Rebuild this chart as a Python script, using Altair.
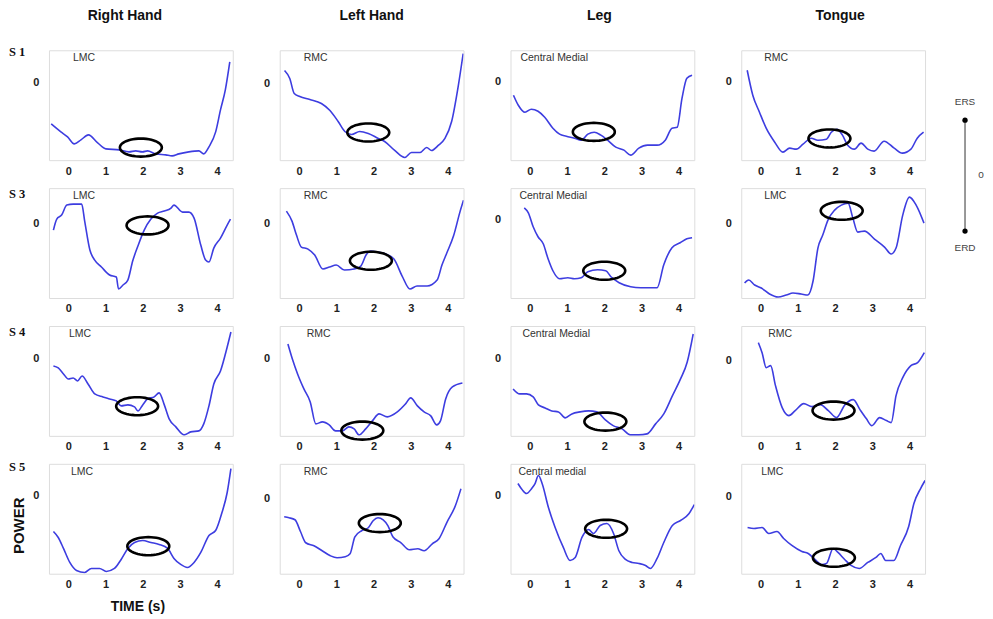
import altair as alt
import pandas as pd
import numpy as np

COLUMNS = ["Right Hand", "Left Hand", "Leg", "Tongue"]
SUBJECTS = ["S 1", "S 3", "S 4", "S 5"]
REGIONS = [
    ["LMC", "RMC", "Central Medial", "RMC"],
    ["LMC", "RMC", "Central Medial", "LMC"],
    ["LMC", "RMC", "Central Medial", "RMC"],
    ["LMC", "RMC", "Central medial", "LMC"],
]
X_TICKS = [0, 1, 2, 3, 4]

# ---- S1 ----
t_s1_rh = [-0.46, -0.20, -0.02, 0.16, 0.34, 0.54, 0.79, 1.01, 1.37, 1.63, 1.81, 1.99, 2.13, 2.35, 2.62, 2.79, 2.97, 3.24, 3.51, 3.64, 3.78, 3.96, 4.09, 4.22, 4.34]
p_s1_rh = [-4.1, -4.9, -5.4, -6.1, -5.7, -5.2, -6.0, -6.6, -6.7, -6.9, -6.8, -6.9, -6.8, -7.1, -7.2, -7.3, -7.1, -6.9, -6.8, -7.1, -6.4, -4.9, -2.7, -0.7, 2.1]
t_s1_lh = [-0.39, -0.25, -0.13, 0.02, 0.29, 0.6, 0.83, 1.05, 1.23, 1.41, 1.63, 1.86, 2.13, 2.3, 2.57, 2.84, 3.02, 3.25, 3.43, 3.56, 3.74, 3.92, 4.1, 4.28, 4.41]
p_s1_lh = [1.3, 0.5, -1.0, -1.3, -1.6, -2.0, -2.7, -3.8, -4.8, -5.1, -4.8, -5.0, -5.5, -5.8, -6.7, -7.4, -6.9, -6.9, -6.4, -6.7, -6.2, -5.5, -3.8, -0.2, 3.0]
t_s1_leg = [-0.44, -0.31, -0.13, 0.04, 0.22, 0.4, 0.62, 0.8, 0.98, 1.2, 1.38, 1.56, 1.73, 1.91, 2.09, 2.31, 2.53, 2.71, 2.93, 3.16, 3.42, 3.64, 3.82, 3.96, 4.09, 4.22, 4.36]
p_s1_leg = [-1.4, -2.4, -3.1, -2.8, -3.0, -3.6, -4.7, -5.3, -5.5, -5.7, -5.9, -5.3, -5.1, -5.4, -5.9, -6.6, -6.9, -7.4, -6.7, -6.4, -6.4, -5.9, -4.7, -4.6, -1.7, 0.3, 0.6]
t_s1_tg = [-0.36, -0.21, -0.03, 0.15, 0.38, 0.6, 0.78, 0.96, 1.14, 1.36, 1.54, 1.77, 1.9, 2.05, 2.2, 2.34, 2.52, 2.7, 2.88, 3.05, 3.32, 3.59, 3.81, 4.04, 4.21, 4.38]
p_s1_tg = [1.1, -1.4, -3.1, -4.7, -6.1, -7.1, -6.7, -6.8, -6.3, -5.7, -5.9, -5.8, -5.1, -4.8, -5.4, -6.4, -6.8, -6.2, -6.8, -7.0, -6.0, -6.7, -7.2, -6.8, -5.7, -5.1]

# ---- S3 ----
t_s3_rh = [-0.4, -0.31, -0.18, -0.04, 0.13, 0.36, 0.44, 0.58, 0.71, 0.89, 1.11, 1.29, 1.35, 1.47, 1.6, 1.73, 1.87, 2.04, 2.22, 2.4, 2.58, 2.76, 2.84, 3.07, 3.24, 3.38, 3.56, 3.69, 3.78, 3.91, 4.09, 4.27, 4.36]
p_s3_rh = [-0.7, 0.4, 0.8, 1.8, 1.9, 1.9, 0.2, -2.7, -3.7, -4.4, -5.2, -5.4, -6.6, -6.2, -5.7, -3.8, -2.3, -0.7, 0.4, 1.0, 1.2, 1.5, 1.8, 1.1, 1.1, 0.5, -2.2, -3.7, -3.9, -2.5, -1.5, -0.2, 0.4]
t_s3_lh = [-0.34, -0.19, -0.07, 0.06, 0.24, 0.42, 0.64, 0.82, 1.0, 1.22, 1.48, 1.66, 1.8, 1.93, 2.11, 2.33, 2.55, 2.77, 2.98, 3.17, 3.44, 3.71, 3.84, 3.97, 4.15, 4.33, 4.42]
p_s3_lh = [1.2, 0.2, -1.2, -2.4, -2.6, -3.2, -4.6, -4.4, -4.2, -4.7, -4.6, -4.3, -3.2, -2.8, -2.9, -3.1, -3.6, -5.3, -6.6, -6.3, -6.3, -5.7, -4.2, -3.0, -1.3, 1.2, 2.3]
t_s3_leg = [-0.15, -0.04, 0.09, 0.22, 0.36, 0.49, 0.62, 0.8, 1.02, 1.2, 1.38, 1.56, 1.82, 2.04, 2.18, 2.4, 2.71, 2.98, 3.24, 3.42, 3.6, 3.82, 4.04, 4.22, 4.36]
p_s3_leg = [1.2, 0.7, -0.7, -1.7, -2.4, -3.9, -5.1, -5.9, -5.8, -5.9, -5.8, -5.2, -5.0, -5.1, -5.7, -6.3, -6.7, -6.8, -6.8, -6.8, -4.5, -2.8, -2.3, -1.9, -1.8]
t_s3_tg = [-0.43, -0.32, -0.16, 0.02, 0.24, 0.47, 0.69, 0.87, 1.09, 1.27, 1.41, 1.54, 1.67, 1.81, 1.99, 2.17, 2.35, 2.48, 2.61, 2.79, 3.06, 3.33, 3.51, 3.64, 3.82, 4.0, 4.18, 4.39]
p_s3_tg = [-6.0, -5.7, -6.2, -6.5, -7.1, -7.4, -7.2, -7.0, -7.1, -7.2, -5.8, -2.5, -1.2, 0.3, 1.3, 1.8, 2.0, 0.5, -0.9, -0.8, -1.6, -2.4, -3.1, -2.5, 0.8, 2.6, 1.8, 0.0]

# ---- S4 ----
t_s4_rh = [-0.4, -0.27, -0.13, 0.0, 0.13, 0.25, 0.37, 0.53, 0.71, 0.93, 1.11, 1.29, 1.42, 1.6, 1.78, 1.87, 2.0, 2.13, 2.31, 2.44, 2.58, 2.71, 2.89, 3.11, 3.29, 3.51, 3.64, 3.78, 3.91, 4.09, 4.27, 4.37]
p_s4_rh = [-0.7, -0.9, -1.5, -2.0, -1.9, -2.2, -1.7, -2.5, -3.5, -3.8, -4.0, -4.2, -4.7, -4.6, -4.8, -5.2, -4.6, -4.0, -3.8, -3.4, -4.6, -6.0, -6.8, -7.6, -7.3, -7.2, -6.5, -4.7, -2.5, -1.2, 1.2, 2.7]
t_s4_lh = [-0.3, -0.18, -0.04, 0.13, 0.3, 0.45, 0.63, 0.81, 0.98, 1.16, 1.34, 1.48, 1.61, 1.79, 1.97, 2.15, 2.37, 2.64, 2.86, 3.0, 3.18, 3.36, 3.54, 3.7, 3.8, 3.94, 4.12, 4.39]
p_s4_lh = [1.5, 0.0, -1.5, -3.0, -4.3, -6.5, -6.3, -6.6, -7.2, -7.2, -6.8, -7.0, -7.6, -7.0, -6.2, -5.5, -5.8, -5.3, -4.5, -3.9, -4.7, -5.3, -5.7, -6.6, -6.2, -4.0, -2.8, -2.4]
t_s4_leg = [-0.45, -0.27, -0.09, 0.09, 0.23, 0.41, 0.59, 0.77, 0.95, 1.13, 1.35, 1.58, 1.8, 2.03, 2.25, 2.48, 2.7, 2.93, 3.15, 3.38, 3.6, 3.83, 4.05, 4.23, 4.39]
p_s4_leg = [-3.0, -3.5, -3.5, -3.8, -4.6, -4.9, -5.2, -5.3, -5.9, -5.5, -5.3, -5.2, -5.3, -6.1, -6.7, -7.0, -7.6, -7.6, -7.5, -6.5, -5.5, -3.7, -2.0, -0.3, 2.5]
t_s4_tg = [-0.06, 0.04, 0.15, 0.27, 0.4, 0.58, 0.76, 0.93, 1.16, 1.38, 1.6, 1.82, 2.04, 2.27, 2.49, 2.67, 2.84, 2.99, 3.2, 3.38, 3.51, 3.64, 3.82, 4.04, 4.22, 4.4]
p_s4_tg = [1.8, 0.8, -0.7, -0.5, -2.5, -4.7, -5.5, -5.0, -4.3, -4.6, -4.4, -5.0, -5.7, -4.4, -3.9, -4.9, -5.8, -6.5, -5.7, -6.0, -6.2, -3.5, -1.7, -0.5, -0.2, 0.8]

# ---- S5 ----
t_s5_rh = [-0.4, -0.27, -0.13, 0.04, 0.22, 0.44, 0.62, 0.84, 1.02, 1.24, 1.42, 1.6, 1.78, 2.0, 2.22, 2.44, 2.67, 2.84, 3.02, 3.2, 3.38, 3.56, 3.78, 3.96, 4.13, 4.27, 4.37]
p_s5_rh = [-3.6, -4.2, -5.3, -6.7, -7.5, -7.7, -7.3, -7.3, -7.6, -7.3, -6.4, -5.3, -4.7, -4.5, -4.7, -4.9, -5.3, -6.3, -6.9, -7.2, -6.7, -5.7, -4.0, -3.5, -1.7, 0.3, 2.7]
t_s5_lh = [-0.4, -0.27, -0.11, 0.04, 0.18, 0.4, 0.62, 0.84, 1.02, 1.24, 1.37, 1.5, 1.68, 1.86, 1.99, 2.12, 2.26, 2.39, 2.52, 2.74, 2.96, 3.19, 3.36, 3.58, 3.76, 3.98, 4.2, 4.35]
p_s5_lh = [-1.8, -1.9, -2.1, -3.3, -4.4, -4.7, -5.2, -5.7, -5.9, -5.8, -5.5, -3.8, -3.2, -2.9, -2.2, -1.9, -2.1, -2.7, -3.8, -4.4, -5.1, -5.0, -5.2, -4.5, -4.0, -2.3, -0.7, 1.0]
t_s5_leg = [-0.32, -0.21, -0.09, 0.05, 0.14, 0.23, 0.33, 0.5, 0.68, 0.9, 1.08, 1.22, 1.4, 1.58, 1.71, 1.89, 2.07, 2.25, 2.39, 2.57, 2.75, 2.93, 3.11, 3.24, 3.42, 3.6, 3.83, 4.05, 4.28, 4.42]
p_s5_leg = [1.2, 0.6, 0.2, 0.7, 1.2, 2.0, 1.2, -1.2, -3.2, -5.2, -6.5, -6.2, -4.2, -3.4, -3.8, -3.0, -2.8, -3.8, -5.5, -6.4, -6.7, -6.8, -7.0, -7.3, -6.3, -4.7, -3.0, -2.5, -1.8, -0.9]
t_s5_tg = [-0.35, -0.18, 0.04, 0.22, 0.44, 0.62, 0.84, 1.11, 1.28, 1.46, 1.64, 1.77, 1.95, 2.08, 2.26, 2.43, 2.65, 2.88, 3.1, 3.23, 3.36, 3.58, 3.76, 3.98, 4.12, 4.3, 4.42]
p_s5_tg = [-3.1, -3.2, -3.1, -3.7, -3.5, -4.2, -4.9, -5.5, -5.7, -6.3, -6.8, -6.7, -5.2, -5.6, -6.3, -6.9, -7.2, -6.6, -6.1, -5.7, -6.4, -6.4, -4.9, -3.0, -0.7, 0.8, 1.6]

T = [[t_s1_rh, t_s1_lh, t_s1_leg, t_s1_tg],
     [t_s3_rh, t_s3_lh, t_s3_leg, t_s3_tg],
     [t_s4_rh, t_s4_lh, t_s4_leg, t_s4_tg],
     [t_s5_rh, t_s5_lh, t_s5_leg, t_s5_tg]]
P = [[p_s1_rh, p_s1_lh, p_s1_leg, p_s1_tg],
     [p_s3_rh, p_s3_lh, p_s3_leg, p_s3_tg],
     [p_s4_rh, p_s4_lh, p_s4_leg, p_s4_tg],
     [p_s5_rh, p_s5_lh, p_s5_leg, p_s5_tg]]

# circled region (time, power) per panel
ELL_T = [[1.95, 1.86, 1.72, 1.85], [2.13, 1.93, 2.0, 2.18], [1.85, 1.7, 2.03, 1.96], [2.15, 2.17, 2.05, 1.97]]
ELL_P = [[-6.47, -4.9, -5.07, -5.73], [-0.23, -3.77, -5.1, 1.23], [-4.73, -7.17, -6.27, -5.0], [-5.07, -2.43, -3.33, -6.13]]

# top of each panel's power axis
Y_TOP = [[3.27, 3.33, 3.1, 3.1], [3.5, 3.5, 3.17, 3.5], [3.3, 3.3, 3.3, 3.47], [3.17, 3.5, 3.17, 3.27]]
SPAN = 11.0
X_DOMAIN = [-0.52, 4.42]

# ---- layout / style ----
W, H = 184, 110
FONT = "Liberation Sans"
BLUE = "#3d3de0"
REG_DX = [[24, 24, 10, 23], [24, 24, 9, 23], [20, 27, 12, 27], [22, 24, 8, 20]]
TITLE_DX = [76, 92, 89, 99]
SUBJ_DY = [2, 6, 6, 3]

_a = np.linspace(0, 2 * np.pi, 49)[:-1]
ELL_PATH = "M" + " L".join(f"{np.cos(a):.4f},{0.43 * np.sin(a):.4f}" for a in _a) + " Z"

ONE = pd.DataFrame({"k": [0]})


def txt(text, x, y, **kw):
    style = dict(font=FONT, color="#222")
    style.update(kw)
    return alt.Chart(ONE).mark_text(text=text, **style).encode(x=alt.value(x), y=alt.value(y))


def panel(r, c):
    df = pd.DataFrame({"t": T[r][c], "p": P[r][c]})
    top = Y_TOP[r][c]
    xenc = alt.X("t:Q", scale=alt.Scale(domain=X_DOMAIN, nice=False, zero=False),
                 axis=alt.Axis(values=X_TICKS, title=None, grid=False, ticks=False, domain=False,
                               labelFont=FONT, labelFontWeight="bold", labelFontSize=11,
                               labelColor="#222", labelPadding=5, format="d"))
    yenc = alt.Y("p:Q", scale=alt.Scale(domain=[top - SPAN, top], nice=False, zero=False),
                 axis=alt.Axis(values=[0], title=None, grid=False, ticks=False, domain=False,
                               labelFont=FONT, labelFontWeight="bold", labelFontSize=11,
                               labelColor="#222", labelPadding=10, format="d"))
    line = alt.Chart(df).mark_line(color=BLUE, strokeWidth=1.6, interpolate="monotone", clip=True).encode(x=xenc, y=yenc)
    ell = alt.Chart(pd.DataFrame({"t": [ELL_T[r][c]], "p": [ELL_P[r][c]]})).mark_point(
        shape=ELL_PATH, size=42 ** 2, filled=False, color="black", strokeWidth=2.6, opacity=1
    ).encode(x="t:Q", y="p:Q")
    layers = [line, ell,
              txt(REGIONS[r][c], REG_DX[r][c], 8, align="left", baseline="middle", fontSize=10.5, color="#333")]
    if r == 0:
        layers.append(txt(COLUMNS[c], TITLE_DX[c], -34, align="center", baseline="middle",
                          fontSize=14, fontWeight="bold", color="#111"))
    if c == 0:
        layers.append(txt(SUBJECTS[r], -40, SUBJ_DY[r], align="left", baseline="middle",
                          font="Liberation Serif", fontSize=12.5, fontWeight="bold", color="#111"))
    if r == 3 and c == 0:
        layers.append(txt("POWER", -30, 62, align="center", baseline="middle", angle=270,
                          fontSize=15, fontWeight="bold", color="#111"))
        layers.append(txt("TIME (s)", 89, 143, align="center", baseline="middle",
                          fontSize=14, fontWeight="bold", color="#111"))
    if r == 0 and c == 3:
        lx = 224
        layers.append(alt.Chart(ONE).mark_rule(color="#777", strokeWidth=1.5).encode(
            x=alt.value(lx), y=alt.value(70), y2=alt.value(181)))
        for yy in (70, 181):
            layers.append(alt.Chart(ONE).mark_circle(size=28, color="black", opacity=1).encode(
                x=alt.value(lx), y=alt.value(yy)))
        layers.append(txt("ERS", lx, 52, align="center", baseline="middle", fontSize=10, color="#444"))
        layers.append(txt("ERD", lx, 198, align="center", baseline="middle", fontSize=10, color="#444"))
        layers.append(txt("0", lx + 16, 125, align="center", baseline="middle", fontSize=10, color="#444"))
    return alt.layer(*layers).properties(width=W, height=H)


panels = [panel(r, c) for r in range(4) for c in range(4)]

chart = alt.concat(*panels, columns=4, spacing={"row": 28, "column": 47}, bounds="flush").properties(
    padding=0
).configure_view(stroke="#d4d4d4", strokeWidth=1).configure(background="white")

chart.save("out.html", embed_options={"renderer": "svg", "actions": False})
